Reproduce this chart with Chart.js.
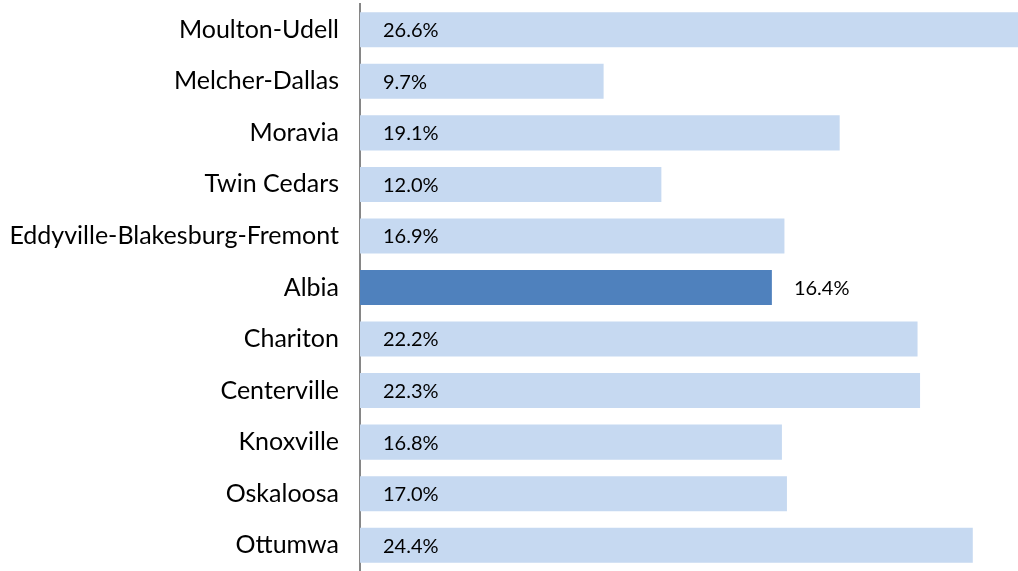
<!DOCTYPE html>
<html>
<head>
<meta charset="utf-8">
<script src="https://cdn.jsdelivr.net/npm/chart.js@4/dist/chart.umd.min.js"></script>
<style>
  html, body { margin: 0; padding: 0; background: #fff; overflow: hidden; }
  canvas { display: block; }
</style>
</head>
<body>
<canvas id="chart-rates" width="1018" height="571"></canvas>
<script>
var districts = ["Moulton-Udell", "Melcher-Dallas", "Moravia", "Twin Cedars",
    "Eddyville-Blakesburg-Fremont", "Albia", "Chariton", "Centerville",
    "Knoxville", "Oskaloosa", "Ottumwa"];
var rates = [26.6, 9.7, 19.1, 12.0, 16.9, 16.4, 22.2, 22.3, 16.8, 17.0, 24.4];
var highlight = "Albia";

var barColors = districts.map(function(d) {
    return d === highlight ? "#4F81BD" : "#C6D9F1";
});

// draws the % labels: inside the bar for most, outside for the highlighted one
var valueLabels = {
    id: 'valueLabels',
    afterDatasetsDraw: function(chart) {
        var ctx = chart.ctx;
        var meta = chart.getDatasetMeta(0);
        ctx.save();
        ctx.font = '20px Lato, "Noto Sans", sans-serif';
        ctx.fillStyle = "#000";
        ctx.textBaseline = "middle";
        ctx.textAlign = "left";
        meta.data.forEach(function(bar, i) {
            var txt = rates[i].toFixed(1) + "%";
            var x = districts[i] === highlight ? bar.x + 22 : bar.base + 23;
            ctx.fillText(txt, x, bar.y + 1);
        });
        ctx.restore();
    }
};

var ctx = document.getElementById("chart-rates");
var rateChart = new Chart(ctx, {
    type: 'bar',
    data: {
        labels: districts,
        datasets: [{
            data: rates,
            backgroundColor: barColors,
            categoryPercentage: 1.0,
            barPercentage: 0.68
        }]
    },
    options: {
        indexAxis: 'y',
        responsive: false,
        animation: false,
        layout: { padding: { top: 4, right: 0, bottom: 0, left: 0 } },
        plugins: {
            legend: { display: false },
            tooltip: { enabled: false }
        },
        scales: {
            x: {
                display: false,
                min: 0,
                max: 26.2
            },
            y: {
                grid: { display: false, drawTicks: false },
                border: { display: true, color: "#868686", width: 2 },
                ticks: {
                    color: "#000",
                    padding: 21,
                    font: { family: 'Lato, "Noto Sans", sans-serif', size: 25 }
                },
                afterFit: function(scale) {
                    scale.width = 360;
                    scale.paddingTop = 0;
                    scale.paddingBottom = 0;
                }
            }
        }
    },
    plugins: [valueLabels]
});
</script>
</body>
</html>
